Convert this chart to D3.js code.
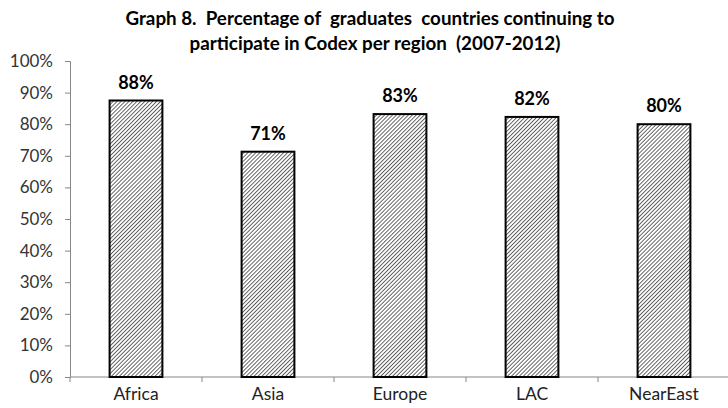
<!DOCTYPE html>
<html><head><meta charset="utf-8">
<script src="https://cdn.jsdelivr.net/npm/d3@7/dist/d3.min.js"></script>
<style>body{margin:0;background:#fff}</style>
</head><body>
<svg id="c" width="728" height="408"></svg>
<script>
const categories = ["Africa","Asia","Europe","LAC","NearEast"];
const values = [0.875, 0.713, 0.832, 0.823, 0.800];
const valueLabels = ["88%","71%","83%","82%","80%"];
const yTicks = [0,0.1,0.2,0.3,0.4,0.5,0.6,0.7,0.8,0.9,1.0];
const titleLines = ["Graph 8.  Percentage of  graduates  countries continuing to","participate in Codex per region  (2007-2012)"];

const svg = d3.select("#c");
const font = "Lato, 'Open Sans', sans-serif";
const mLeft = 70, mRight = 730, mTop = 61, mBottom = 377;

const x = d3.scaleBand().domain(categories).range([mLeft, mRight]).paddingInner(0.6).paddingOuter(0.3);
const y = d3.scaleLinear().domain([0,1]).range([mBottom, mTop]);

const defs = svg.append("defs");
const pat = defs.append("pattern").attr("id","hatch").attr("patternUnits","userSpaceOnUse")
  .attr("width",2.8).attr("height",2.8).attr("patternTransform","rotate(45)");
pat.append("rect").attr("width",2.8).attr("height",2.8).attr("fill","#fff");
pat.append("line").attr("x1",0).attr("y1",0).attr("x2",0).attr("y2",2.8).attr("stroke","#000").attr("stroke-width",1.2);

// title
svg.selectAll("text.title").data(titleLines).enter().append("text").attr("class","title")
  .attr("x",(d,i)=> i===0?370:375).attr("y",(d,i)=>25+i*25)
  .attr("text-anchor","middle").attr("font-family",font).attr("font-weight","bold")
  .attr("font-size",18.8).attr("fill","#000").attr("xml:space","preserve").text(d=>d);

// y axis
const yAxis = d3.axisLeft(y).tickValues(yTicks).tickFormat(d3.format(".0%")).tickSize(5).tickPadding(12);
const gy = svg.append("g").attr("transform",`translate(${mLeft},0)`).call(yAxis);
gy.select(".domain").attr("stroke","#868686");
gy.selectAll(".tick line").attr("stroke","#868686");
gy.selectAll(".tick text").attr("font-family",font).attr("font-size",17).attr("fill","#333");

// x axis line + ticks at boundaries
const gx = svg.append("g");
gx.append("line").attr("x1",mLeft).attr("x2",mRight).attr("y1",mBottom).attr("y2",mBottom).attr("stroke","#868686");
const step = x.step();
const bounds = d3.range(categories.length+1).map(i=> x(categories[0]) - (step - x.bandwidth())/2 + i*step);
gx.selectAll("line.t").data(bounds).enter().append("line").attr("class","t")
  .attr("x1",d=>d).attr("x2",d=>d).attr("y1",mBottom).attr("y2",mBottom+5).attr("stroke","#868686");
gx.selectAll("text").data(categories).enter().append("text")
  .attr("x",d=>x(d)+x.bandwidth()/2).attr("y",400).attr("text-anchor","middle")
  .attr("font-family",font).attr("font-size",17.5).attr("fill","#222").text(d=>d);

// bars
svg.selectAll("rect.bar").data(values).enter().append("rect").attr("class","bar")
  .attr("x",(d,i)=>x(categories[i])).attr("y",d=>y(d))
  .attr("width",x.bandwidth()).attr("height",d=>mBottom-y(d))
  .attr("fill","url(#hatch)").attr("stroke","#000").attr("stroke-width",2);

// labels
svg.selectAll("text.lab").data(values).enter().append("text").attr("class","lab")
  .attr("x",(d,i)=>x(categories[i])+x.bandwidth()/2).attr("y",d=>y(d)-12)
  .attr("text-anchor","middle").attr("font-family",font).attr("font-weight","bold")
  .attr("font-size",18).attr("fill","#000").text((d,i)=>valueLabels[i]);
</script>
</body></html>
